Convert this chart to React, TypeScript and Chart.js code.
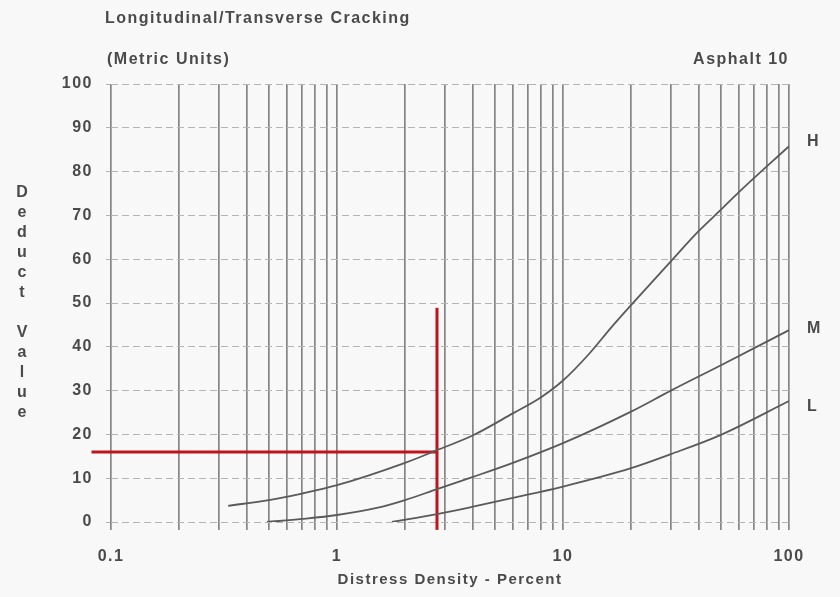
import React, { useEffect, useRef } from 'react';
import { Chart, registerables } from 'chart.js';

Chart.register(...registerables);

// ---- data ----
const X_GRID = [0.1, 0.2, 0.3, 0.4, 0.5, 0.6, 0.7, 0.8, 0.9, 1, 2, 3, 4, 5, 6, 7, 8, 9, 10, 20, 30, 40, 50, 60, 70, 80, 90, 100];
const X_LABELS = [0.1, 1, 10, 100];
const Y_TICKS = [0, 10, 20, 30, 40, 50, 60, 70, 80, 90, 100];

const H_X = [0.33, 0.5, 0.7, 1, 2, 2.77, 4, 6, 8, 10, 13, 16.4, 20, 30, 40, 50, 60, 100];
const H_Y = [3.7, 5.0, 6.5, 8.4, 13.5, 16.4, 19.8, 24.8, 28.5, 32.3, 38.3, 44.5, 49.5, 59.5, 66.5, 71.3, 75.3, 85.8];

const M_X = [0.49, 0.7, 1, 1.5, 2, 2.77, 4, 6, 10, 20, 30, 50, 100];
const M_Y = [0, 0.7, 1.6, 3.2, 5.0, 7.5, 10.3, 13.5, 18.0, 25.2, 30.0, 35.8, 43.8];

const L_X = [1.75, 2.77, 4, 6, 10, 20, 30, 50, 100];
const L_Y = [0, 1.8, 3.5, 5.5, 8.1, 12.3, 15.5, 19.9, 27.6];

const CURVE_NAMES = ['H', 'M', 'L'];

const RED_V_X = [2.77, 2.77];
const RED_V_Y = [-1.8, 48.9];
const RED_H_X = [0.082, 2.77];
const RED_H_Y = [16, 16];

const TITLE_1 = 'Longitudinal/Transverse Cracking';
const TITLE_2 = '(Metric Units)';
const TITLE_RIGHT = 'Asphalt 10';
const X_TITLE = 'Distress Density - Percent';
const Y_TITLE = 'Deduct Value';

const toPts = (xs: number[], ys: number[]) => xs.map((x, i) => ({ x, y: ys[i] }));

const TEXT_COLOR = '#4a4a4a';
const FONT_FAMILY = '"Liberation Sans", Arial, sans-serif';
const LABEL_SHIFT = [-5, -2, 5];

const decorPlugin = {
  id: 'decor',
  beforeDraw(chart: any) {
    const ctx = chart.ctx;
    ctx.save();
    ctx.fillStyle = '#f8f8f8';
    ctx.fillRect(0, 0, chart.width, chart.height);
    ctx.restore();
    (ctx as any).letterSpacing = '1.5px';
  },
  afterDraw(chart: any) {
    const ctx = chart.ctx;
    const area = chart.chartArea;
    ctx.save();
    (ctx as any).letterSpacing = '1.5px';
    ctx.fillStyle = TEXT_COLOR;
    ctx.font = `bold 16px ${FONT_FAMILY}`;
    ctx.textBaseline = 'middle';
    ctx.textAlign = 'left';
    ctx.fillText(TITLE_1, area.left - 6, 19);
    ctx.fillText(TITLE_2, area.left - 4, 60);
    ctx.textAlign = 'right';
    ctx.fillText(TITLE_RIGHT, area.right, 60);

    // x axis title
    ctx.textAlign = 'center';
    ctx.font = `bold 15px ${FONT_FAMILY}`;
    ctx.fillText(X_TITLE, 450, 580);

    // y axis title: stacked letters
    (ctx as any).letterSpacing = '0px';
    ctx.font = `bold 16px ${FONT_FAMILY}`;
    const chars = Y_TITLE.split('');
    const step = 20;
    const mid = (area.top + area.bottom) / 2;
    const start = mid - ((chars.length - 1) * step) / 2;
    chars.forEach((c, i) => {
      if (c.trim()) ctx.fillText(c, 22, start + i * step);
    });

    // curve labels
    ctx.textAlign = 'left';
    ctx.font = `bold 16px ${FONT_FAMILY}`;
    const ys = chart.scales.y;
    [H_Y, M_Y, L_Y].forEach((arr, i) => {
      const v = arr[arr.length - 1];
      ctx.fillText(CURVE_NAMES[i], area.right + 18, ys.getPixelForValue(v) + LABEL_SHIFT[i]);
    });
    ctx.restore();
  },
};

export default function App() {
  const ref = useRef<HTMLCanvasElement | null>(null);

  useEffect(() => {
    if (!ref.current) return;
    const curve = (data: any) => ({
      data,
      borderColor: '#5a5a5a',
      borderWidth: 1.8,
      pointRadius: 0,
      cubicInterpolationMode: 'monotone',
      fill: false,
    });
    const red = (data: any) => ({
      data,
      borderColor: '#c0141c',
      borderWidth: 3,
      pointRadius: 0,
      tension: 0,
      fill: false,
      clip: false,
    });
    const chart = new Chart(ref.current, {
      type: 'line',
      data: {
        datasets: [
          curve(toPts(H_X, H_Y)),
          curve(toPts(M_X, M_Y)),
          curve(toPts(L_X, L_Y)),
          red(toPts(RED_H_X, RED_H_Y)),
          red(toPts(RED_V_X, RED_V_Y)),
        ] as any,
      },
      options: {
        animation: false,
        responsive: false,
        layout: { padding: { top: 84, right: 51, left: 0, bottom: 0 } },
        plugins: { legend: { display: false }, tooltip: { enabled: false }, title: { display: false } },
        scales: {
          x: {
            type: 'logarithmic',
            min: 0.1,
            max: 100,
            afterBuildTicks: (scale: any) => {
              scale.ticks = X_GRID.map((v) => ({ value: v, major: X_LABELS.includes(v) }));
            },
            afterFit: (scale: any) => {
              scale.height = 75;
            },
            ticks: {
              autoSkip: false,
              maxRotation: 0,
              minRotation: 0,
              padding: 17,
              color: TEXT_COLOR,
              font: { family: FONT_FAMILY, size: 16, weight: 'bold' },
              callback: (value: any) => (X_LABELS.includes(Number(value)) ? String(value) : ''),
            },
            grid: { color: '#858585', lineWidth: 1.7, tickLength: 8, tickColor: '#858585', tickWidth: 1.7 },
            border: { display: false },
          },
          y: {
            type: 'linear',
            min: 0,
            max: 100,
            afterBuildTicks: (scale: any) => {
              scale.ticks = Y_TICKS.map((v) => ({ value: v }));
            },
            afterFit: (scale: any) => {
              scale.width = 111;
            },
            ticks: {
              padding: 13,
              color: TEXT_COLOR,
              font: { family: FONT_FAMILY, size: 16, weight: 'bold' },
            },
            grid: { color: '#b4b4b4', lineWidth: 1, tickLength: 5, tickColor: '#b4b4b4', tickBorderDash: [4, 3] },
            border: { display: false, dash: [7, 4] },
          },
        },
      } as any,
      plugins: [decorPlugin],
    });
    return () => chart.destroy();
  }, []);

  return (
    <div style={{ position: 'fixed', left: 0, top: 0, width: 840, height: 597 }}>
      <canvas ref={ref} width={840} height={597} style={{ display: 'block' }} />
    </div>
  );
}
